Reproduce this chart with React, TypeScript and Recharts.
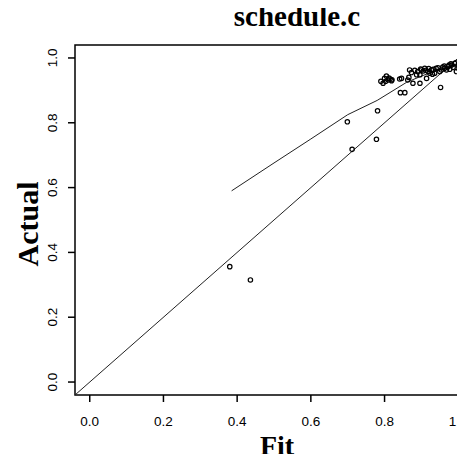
import React from "react";
import { ScatterChart, Scatter, XAxis, YAxis, ReferenceArea, ReferenceLine } from "recharts";

// observed (fit, actual) pairs
const fitValues = [
  0.38, 0.436, 0.699, 0.712, 0.778, 0.781,
  0.796, 0.80, 0.805, 0.81, 0.819, 0.79, 0.815, 0.82, 0.803, 0.812,
  0.841, 0.843, 0.855, 0.846, 0.866, 0.863, 0.868, 0.873, 0.877, 0.887,
  0.896, 0.896, 0.90, 0.905, 0.909, 0.914, 0.918, 0.923, 0.927, 0.93, 0.936, 0.94,
  0.882, 0.89, 0.898, 0.912, 0.92, 0.932, 0.945, 0.958, 0.962, 0.975, 0.98, 0.993,
  0.95, 0.952, 0.954, 0.963, 0.968, 0.972, 0.977, 0.982, 0.986, 0.99, 0.995, 0.999, 1.0, 1.004, 1.009, 1.013,
];
const actualValues = [
  0.356, 0.315, 0.803, 0.718, 0.749, 0.837,
  0.922, 0.937, 0.944, 0.932, 0.93, 0.928, 0.935, 0.933, 0.928, 0.938,
  0.935, 0.893, 0.893, 0.937, 0.94, 0.932, 0.963, 0.955, 0.922, 0.948,
  0.922, 0.948, 0.963, 0.96, 0.968, 0.937, 0.958, 0.953, 0.963, 0.95, 0.953, 0.968,
  0.962, 0.958, 0.966, 0.962, 0.967, 0.965, 0.97, 0.972, 0.975, 0.978, 0.982, 0.985,
  0.958, 0.909, 0.963, 0.968, 0.963, 0.973, 0.965, 0.978, 0.971, 0.983, 0.958, 0.978, 0.968, 0.994, 0.953, 0.968,
];

// smoothed curve
const smoothFit = [0.385, 0.5, 0.6, 0.7, 0.78, 0.86, 0.9, 0.93, 0.97, 1.012];
const smoothActual = [0.59, 0.676, 0.75, 0.825, 0.869, 0.925, 0.944, 0.957, 0.968, 0.984];

const tickValues = [0, 0.2, 0.4, 0.6, 0.8, 1.0];
const DOMAIN: [number, number] = [-0.04, 1.04];

const points = fitValues.map((x, i) => ({ x, y: actualValues[i] }));
const smooth = smoothFit.map((x, i) => ({ x, y: smoothActual[i] }));

const tickFont = "'Liberation Sans', Arial, sans-serif";
const labelFont = "'Liberation Serif', 'Times New Roman', serif";

function XTick(props: any) {
  const { x, y, payload } = props;
  return (
    <text x={x} y={y + 22} textAnchor="middle" fontFamily={tickFont} fontSize={13.5} fill="#000">
      {payload.value.toFixed(1)}
    </text>
  );
}

function YTick(props: any) {
  const { x, y, payload } = props;
  const tx = x - 9;
  return (
    <text x={tx} y={y} textAnchor="middle" fontFamily={tickFont} fontSize={13.5} fill="#000"
      transform={`rotate(-90, ${tx}, ${y})`}>
      {payload.value.toFixed(1)}
    </text>
  );
}

function Ring(props: any) {
  const { cx, cy } = props;
  return <circle cx={cx} cy={cy} r={2.2} fill="none" stroke="#000" strokeWidth={1.2} />;
}

export default function App() {
  return (
    <div style={{ margin: -8, width: 465, height: 462, overflow: "hidden", position: "relative", background: "#fff" }}>
      <ScatterChart width={490} height={462} margin={{ top: 45, right: 17, bottom: 0, left: 0 }}>
        <XAxis type="number" dataKey="x" domain={DOMAIN} ticks={tickValues} allowDataOverflow
          height={67} axisLine={false} tickSize={7} tickLine={{ stroke: "#000", strokeWidth: 1.5 }} tick={<XTick />} />
        <YAxis type="number" dataKey="y" domain={DOMAIN} ticks={tickValues} allowDataOverflow
          width={75} axisLine={false} tickSize={7} tickLine={{ stroke: "#000", strokeWidth: 1.5 }} tick={<YTick />} />
        <ReferenceLine segment={[{ x: -0.04, y: -0.04 }, { x: 1.04, y: 1.04 }]} stroke="#222" strokeWidth={1} />
        <Scatter data={smooth} line={{ stroke: "#222", strokeWidth: 1 }} lineType="joint" shape={() => <g />} isAnimationActive={false} />
        <Scatter data={points} shape={<Ring />} isAnimationActive={false} />
        <ReferenceArea x1={-0.04} x2={1.04} y1={-0.04} y2={1.04} fill="none" stroke="#000" strokeWidth={1.5} />
      </ScatterChart>
      <div style={{ position: "absolute", left: 297, top: 31, transform: "translate(-50%, -100%)", fontFamily: labelFont,
        fontWeight: "bold", fontSize: 29, lineHeight: "29px", whiteSpace: "nowrap" }}>schedule.c</div>
      <div style={{ position: "absolute", left: 277, top: 432, transform: "translateX(-50%)", fontFamily: labelFont,
        fontWeight: "bold", fontSize: 28, lineHeight: "28px", whiteSpace: "nowrap" }}>Fit</div>
      <div style={{ position: "absolute", left: 28, top: 224, transform: "translate(-50%, -50%) rotate(-90deg)", fontFamily: labelFont,
        fontWeight: "bold", fontSize: 30, lineHeight: "30px", whiteSpace: "nowrap" }}>Actual</div>
    </div>
  );
}
